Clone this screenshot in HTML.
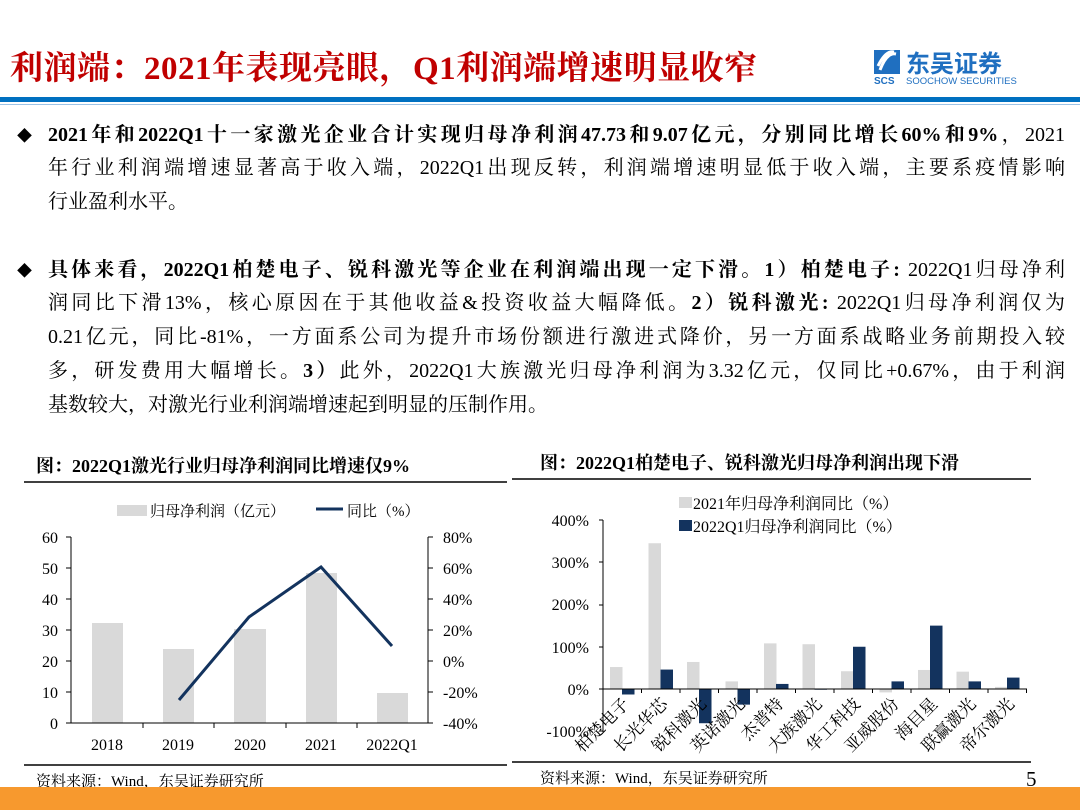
<!DOCTYPE html>
<html><head><meta charset="utf-8"><style>
body{margin:0;width:1080px;height:810px;overflow:hidden;background:#fff;position:relative;font-family:"Liberation Serif","Noto Serif CJK SC",serif;color:#000}
.t{position:absolute;left:48px;width:1017px;font-size:20px;height:34px;line-height:34px;white-space:nowrap;text-align:justify;text-align-last:justify}
.t.n{text-align-last:left}
b{font-weight:bold}
.d{position:absolute;left:17px;font-size:15px}
</style></head><body>
<div style="position:absolute;left:10px;top:42px;font-size:33px;font-weight:bold;color:#c00000;letter-spacing:0.5px">利润端：2021年表现亮眼，Q1利润端增速明显收窄</div>
<svg style="position:absolute;left:870px;top:48px" width="160" height="40">
<rect x="4" y="2" width="26" height="24" fill="#1f6fc0"/><path d="M10 22 Q17 4 26 6 M8 18 Q16 2 24 4" stroke="#fff" stroke-width="3" fill="none"/>
<text x="4" y="36" font-family="Liberation Sans" font-size="10" font-weight="bold" fill="#1f6fc0">SCS</text>
<text x="36" y="24" font-family="Liberation Sans,Noto Sans CJK SC,sans-serif" font-size="24" font-weight="bold" fill="#1f6fc0">东吴证券</text>
<text x="36" y="36" font-family="Liberation Sans,sans-serif" font-size="9.5" fill="#1f6fc0">SOOCHOW SECURITIES</text>
</svg>
<div style="position:absolute;left:0;top:97px;width:1080px;height:5px;background:#0070c0"></div>
<div style="position:absolute;left:0;top:104px;width:1080px;height:1px;background:#9dc3e6"></div>

<div class="d" style="top:125px">◆</div>
<div class="t" style="top:118px"><b>2021年和2022Q1十一家激光企业合计实现归母净利润47.73和9.07亿元，分别同比增长60%和9%</b>，2021</div>
<div class="t" style="top:151px">年行业利润端增速显著高于收入端，2022Q1出现反转，利润端增速明显低于收入端，主要系疫情影响</div>
<div class="t n" style="top:185px">行业盈利水平。</div>
<div class="d" style="top:260px">◆</div>
<div class="t" style="top:253px"><b>具体来看，2022Q1柏楚电子、锐科激光等企业在利润端出现一定下滑。1）柏楚电子:</b> 2022Q1归母净利</div>
<div class="t" style="top:286px">润同比下滑13%，核心原因在于其他收益&amp;投资收益大幅降低。<b>2）锐科激光:</b> 2022Q1归母净利润仅为</div>
<div class="t" style="top:320px">0.21亿元，同比-81%，一方面系公司为提升市场份额进行激进式降价，另一方面系战略业务前期投入较</div>
<div class="t" style="top:354px">多，研发费用大幅增长。<b>3）</b>此外，2022Q1大族激光归母净利润为3.32亿元，仅同比+0.67%，由于利润</div>
<div class="t n" style="top:388px">基数较大，对激光行业利润端增速起到明显的压制作用。</div>

<svg style="position:absolute;left:0;top:0" width="1080" height="810" font-family="Liberation Serif,Noto Serif CJK SC,serif">
<!-- left chart -->
<text x="36" y="472" font-size="18" font-weight="bold">图：2022Q1激光行业归母净利润同比增速仅9%</text>
<line x1="24" y1="482" x2="507" y2="482" stroke="#000" stroke-width="1.5"/>
<line x1="24" y1="765" x2="507" y2="765" stroke="#000" stroke-width="1.5"/>
<line x1="512" y1="479" x2="530" y2="479" stroke="#000" stroke-width="1.5"/>
<line x1="512" y1="762" x2="530" y2="762" stroke="#000" stroke-width="1.5"/>
<text x="36" y="786" font-size="15">资料来源：Wind，东吴证券研究所</text>
<rect x="117" y="505" width="30" height="11" fill="#d9d9d9"/>
<text x="150" y="516" font-size="15">归母净利润（亿元）</text>
<line x1="316" y1="509" x2="343" y2="509" stroke="#13335e" stroke-width="3"/>
<text x="347" y="516" font-size="15">同比（%）</text>
<g fill="#d9d9d9">
<rect x="92" y="623" width="31" height="100"/><rect x="163" y="649" width="31" height="74"/>
<rect x="234" y="629" width="32" height="94"/><rect x="306" y="573" width="31" height="150"/>
<rect x="377" y="693" width="31" height="30"/></g>
<g stroke="#000" stroke-width="1" fill="none">
<path d="M71 537 V723 H428 V537"/>
<path d="M66 537H71M66 568H71M66 599H71M66 630H71M66 661H71M66 692H71M66 723H71"/>
<path d="M428 537H433M428 568H433M428 599H433M428 630H433M428 661H433M428 692H433M428 723H433"/>
<path d="M143 723v5M214 723v5M286 723v5M357 723v5"/></g>
<g font-size="16" text-anchor="end"><text x="58" y="543">60</text><text x="58" y="574">50</text><text x="58" y="605">40</text><text x="58" y="636">30</text><text x="58" y="667">20</text><text x="58" y="698">10</text><text x="58" y="729">0</text></g>
<g font-size="16"><text x="443" y="543">80%</text><text x="443" y="574">60%</text><text x="443" y="605">40%</text><text x="443" y="636">20%</text><text x="443" y="667">0%</text><text x="443" y="698">-20%</text><text x="443" y="729">-40%</text></g>
<g font-size="16" text-anchor="middle"><text x="107" y="750">2018</text><text x="178" y="750">2019</text><text x="250" y="750">2020</text><text x="321" y="750">2021</text><text x="392" y="750">2022Q1</text></g>
<polyline points="179,700 249,617 321,567 392,646" fill="none" stroke="#13335e" stroke-width="3"/>

<!-- right chart -->
<text x="540" y="469" font-size="18" font-weight="bold">图：2022Q1柏楚电子、锐科激光归母净利润出现下滑</text>
<line x1="530" y1="479" x2="1031" y2="479" stroke="#000" stroke-width="1.5"/>
<line x1="530" y1="762" x2="1031" y2="762" stroke="#000" stroke-width="1.5"/>
<text x="540" y="783" font-size="15">资料来源：Wind，东吴证券研究所</text>
<text x="1026" y="786" font-size="21">5</text>
<rect x="679" y="497" width="13" height="11" fill="#d9d9d9"/><text x="693" y="509" font-size="16">2021年归母净利润同比（%）</text>
<rect x="679" y="520" width="13" height="11" fill="#13335e"/><text x="693" y="532" font-size="16">2022Q1归母净利润同比（%）</text>
<g font-size="16" text-anchor="end"><text x="589" y="526">400%</text><text x="589" y="568">300%</text><text x="589" y="610">200%</text><text x="589" y="653">100%</text><text x="589" y="695">0%</text><text x="589" y="737">-100%</text></g>
<g id="bars"></g>
<line x1="603" y1="520" x2="603" y2="732" stroke="#000"/>
<path d="M599 520H603M599 562H603M599 605H603M599 647H603M599 689H603M599 731H603" stroke="#000"/>
<line x1="603" y1="689" x2="1027" y2="689" stroke="#000"/>
<g id="lbl" font-size="17"></g>
</svg>
<script>
var g=[52,345,64,18,108,106,42,-8,45,41,5],n=[-13,46,-81,-37,12,0.67,100,18,150,18,27];
var names=["柏楚电子","长光华芯","锐科激光","英诺激光","杰普特","大族激光","华工科技","亚威股份","海目星","联赢激光","帝尔激光"];
var s='',l='',w=38.5,u=0.4225;
function r(x,v,c){var h=Math.abs(v)*u;var y=v>=0?689-h:689;return '<rect x="'+x+'" y="'+y+'" width="12.5" height="'+Math.max(h,1)+'" fill="'+c+'"/>';}
for(var i=0;i<11;i++){var x=603+i*w+7;
s+=r(x,g[i],'#d9d9d9')+r(x+12,n[i],'#13335e');
s+='<line x1="'+(603+(i+1)*w)+'" y1="689" x2="'+(603+(i+1)*w)+'" y2="693" stroke="#000"/>';
var cx=603+i*w+w/2+8,cy=705;
l+='<text x="'+cx+'" y="'+cy+'" text-anchor="end" transform="rotate(-45 '+cx+' '+cy+')">'+names[i]+'</text>';}
document.getElementById('bars').innerHTML=s;document.getElementById('lbl').innerHTML=l;
</script>
<div style="position:absolute;left:0;top:787px;width:1080px;height:23px;background:#f7992e"></div>
</body></html>
